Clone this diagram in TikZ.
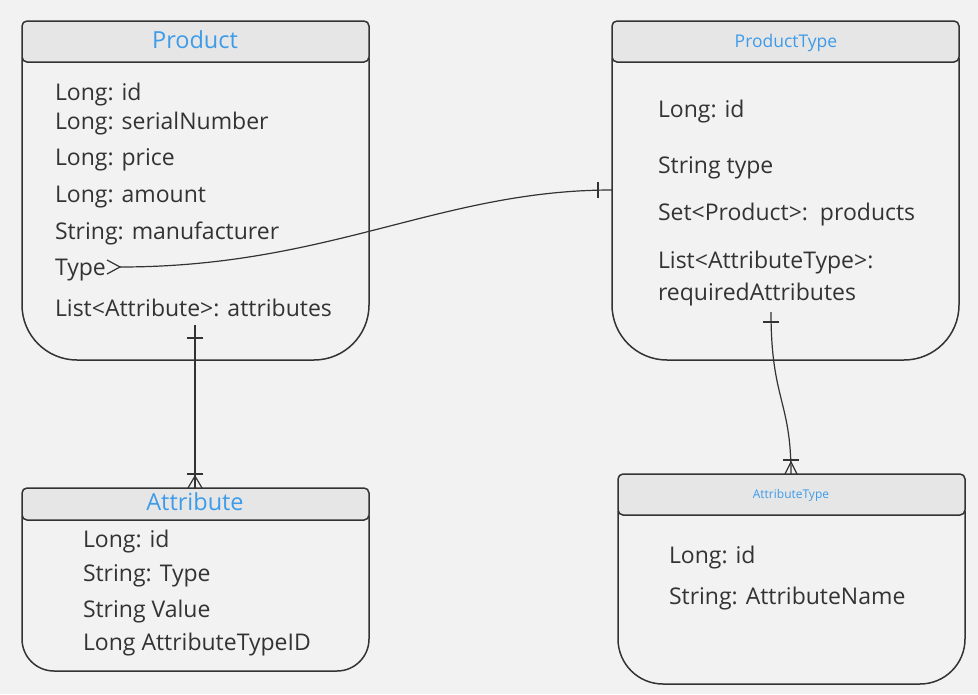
\documentclass[tikz,border=0pt]{standalone}
\usepackage{fontspec}
\setmainfont{Open Sans}
\begin{document}
\begin{tikzpicture}[x=1pt,y=-1pt,
  every node/.style={inner sep=0pt,outer sep=0pt},
  line/.style={draw=ink,line width=1.5pt},
  conn/.style={draw=ink,line width=1.2pt},
  hdr/.style={draw=ink,line width=1.5pt,fill=hdrfill,rounded corners=5pt},
  field/.style={anchor=base west,text=ink,font=\fontsize{23}{27}\selectfont},
  ttl/.style={anchor=base,text=ttlblue}]
\definecolor{bg}{HTML}{F2F2F2}
\definecolor{ink}{HTML}{333333}
\definecolor{hdrfill}{HTML}{E6E6E6}
\definecolor{ttlblue}{HTML}{3D9BE9}
\fill[bg] (0,0) rectangle (978,694);
\useasboundingbox (0,0) rectangle (978,694);

% Product
\draw[line,rounded corners=55pt] (22,58) -- (22,360) -- (369,360) -- (369,58);
\draw[hdr] (22,21) rectangle (369,62);
\node[ttl,font=\fontsize{23.5}{28}\selectfont] (pT) at (195,48) {Product};
\node[field] (p1) at (55,100) {Long: id};
\node[field] (p2) at (55,129) {Long: serialNumber};
\node[field] (p3) at (55,165) {Long: price};
\node[field] (p4) at (55,202) {Long: amount};
\node[field] (p5) at (55,239) {String: manufacturer};
\node[field] (p6) at (55,275) {Type};
\node[field] (p7) at (55,316) {List<Attribute>: attributes};

% ProductType
\draw[line,rounded corners=55pt] (612,58) -- (612,360) -- (959,360) -- (959,58);
\draw[hdr] (612,21) rectangle (959,62);
\node[ttl,font=\fontsize{17.5}{21}\selectfont] (tT) at (786,47) {ProductType};
\node[field] (t1) at (658,117) {Long: id};
\node[field] (t2) at (658,173) {String type};
\node[field] (t3) at (658,220) {Set<Product>:\ \ products};
\node[field] (t4) at (658,268) {List<AttributeType>:};
\node[field] (t5) at (658,300) {requiredAttributes};

% Attribute
\draw[line,rounded corners=32pt] (22,516) -- (22,671) -- (369,671) -- (369,516);
\draw[hdr] (22,488) rectangle (369,520);
\node[ttl,font=\fontsize{23.5}{28}\selectfont] (aT) at (195,510) {Attribute};
\node[field] (a1) at (83,547) {Long: id};
\node[field] (a2) at (83,581) {String: Type};
\node[field] (a3) at (83,617) {String Value};
\node[field] (a4) at (83,650) {Long AttributeTypeID};

% AttributeType
\draw[line,rounded corners=45pt] (618,511) -- (618,684) -- (965,684) -- (965,511);
\draw[hdr] (618,474) rectangle (965,515);
\node[ttl,font=\fontsize{12}{14}\selectfont] (bT) at (791,498) {AttributeType};
\node[field] (b1) at (669,563) {Long: id};
\node[field] (b2) at (669,604) {String: AttributeName};

% connector Product.Type -> ProductType
\coordinate (c1s) at (120,267);
\coordinate (c1e) at (612,190);
\draw[conn] (c1s) .. controls (330,267) and (440,190) .. (c1e);
\draw[conn] (107,260) -- (c1s) -- (107,274);
\draw[conn] (598,182) -- (598,198);

% connector Product -> Attribute
\coordinate (c2s) at (195,325);
\coordinate (c2e) at (195,488);
\draw[conn] (c2s) -- (c2e);
\draw[conn] (187,338) -- (203,338);
\draw[conn] (187,474) -- (203,474);
\draw[conn] (188,488) -- (195,476) -- (202,488);

% connector ProductType -> AttributeType
\coordinate (c3s) at (771,312);
\coordinate (c3e) at (791,474);
\draw[conn] (c3s) .. controls (771,400) and (791,400) .. (c3e);
\draw[conn] (763,322) -- (779,322);
\draw[conn] (783,460) -- (799,460);
\draw[conn] (785,474) -- (791,462) -- (797,474);
\end{tikzpicture}
\end{document}
